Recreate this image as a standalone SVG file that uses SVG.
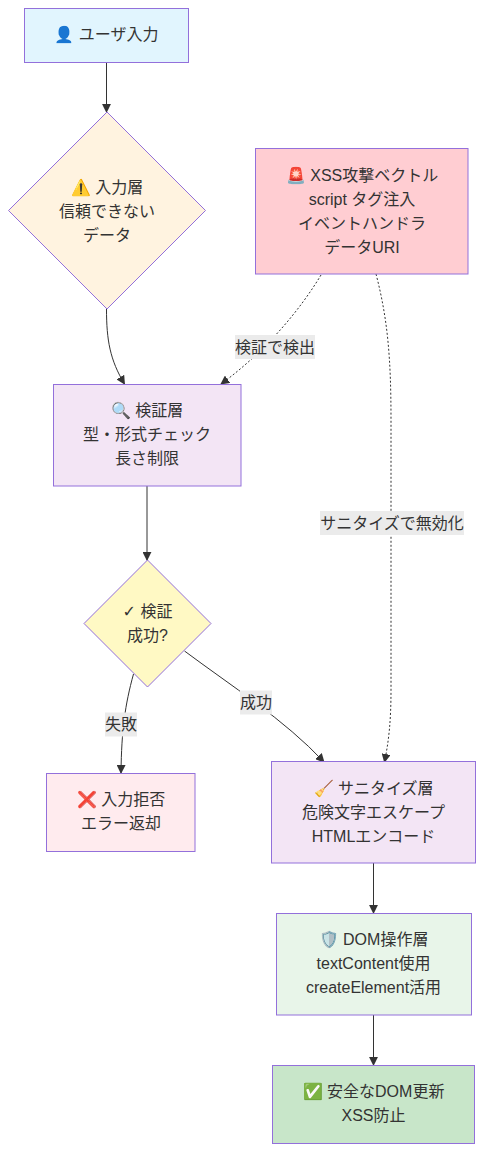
<svg xmlns="http://www.w3.org/2000/svg" width="484" height="1151" viewBox="0 0 484 1151">
<style>
text{font-family:"Liberation Sans","Noto Sans CJK JP",sans-serif;font-size:16px;fill:#333;text-anchor:middle}
.n{stroke:#9370DB;stroke-width:1}
.e{fill:none;stroke:#333;stroke-width:1}
.d{stroke-dasharray:2 2}
.lb{fill:#ebebeb;stroke:none}
.c{font-family:"DejaVu Sans",sans-serif}
</style>
<defs><marker id="a" viewBox="0 0 10 10" refX="9" refY="5" markerWidth="9" markerHeight="9" markerUnits="userSpaceOnUse" orient="auto"><path d="M0 0L10 5L0 10z" fill="#333"/></marker></defs>
<rect width="484" height="1151" fill="#fff"/>
<g id="connectors">
<path class="e" marker-end="url(#a)" d="M106.500 62V112"/>
<path class="e" marker-end="url(#a)" d="M106.500 309C106.500 340 110 360 124.500 384"/>
<path class="e d" marker-end="url(#a)" d="M321 275C300 310 265 352 221 384"/>
<path class="e d" marker-end="url(#a)" d="M376 274C388 320 391 360 391 420V690C391 720 389 740 384.500 762"/>
<path class="e" marker-end="url(#a)" d="M147 486V560"/>
<path class="e" marker-end="url(#a)" d="M133.500 674C125 705 121.500 730 121 773"/>
<path class="e" marker-end="url(#a)" d="M184.500 651C230 685 285 720 324 762"/>
<path class="e" marker-end="url(#a)" d="M373.500 863V913"/>
<path class="e" marker-end="url(#a)" d="M373.500 1015V1065"/>
<rect class="lb" x="235" y="335" width="80" height="24"/><text x="275" y="353">検証で検出</text>
<rect class="lb" x="320" y="511" width="144" height="24"/><text x="392" y="529">サニタイズで無効化</text>
<rect class="lb" x="105" y="712.500" width="32" height="24"/><text x="121" y="730">失敗</text>
<rect class="lb" x="240" y="690.500" width="32" height="24"/><text x="256" y="708">成功</text>
</g>
<g id="input"><rect class="n" x="24.500" y="8.500" width="164" height="54" fill="#e1f5fe"/><text x="106.500" y="40">👤 ユーザ入力</text></g>
<g id="inputLayer"><polygon class="n" points="107,112 205.500,210.500 107,309 8.500,210.500" fill="#fff3e0"/><text x="107" y="193">⚠️ 入力層</text><text x="107" y="217">信頼できない</text><text x="107" y="241">データ</text></g>
<g id="xss"><rect class="n" x="255.500" y="148.500" width="212.500" height="125.500" fill="#ffcdd2"/><text x="362" y="181">🚨 XSS攻撃ベクトル</text><text x="362" y="205">script タグ注入</text><text x="362" y="229">イベントハンドラ</text><text x="362" y="253">データURI</text></g>
<g id="validate"><rect class="n" x="53.500" y="384.500" width="187.500" height="101.500" fill="#f3e5f5"/><text x="147" y="416">🔍 検証層</text><text x="147" y="440">型・形式チェック</text><text x="147" y="464">長さ制限</text></g>
<g id="check"><polygon class="n" points="147.500,560 211,623.500 147.500,687 84,623.500" fill="#fff9c4"/><text x="147.500" y="617"><tspan class="c">✓</tspan> 検証</text><text x="147.500" y="641">成功?</text></g>
<g id="reject"><rect class="n" x="46.500" y="773.500" width="148.500" height="78" fill="#ffebee"/><text x="121" y="805">❌ 入力拒否</text><text x="121" y="829">エラー返却</text></g>
<g id="sanitize"><rect class="n" x="271.500" y="761.500" width="204" height="101.500" fill="#f3e5f5"/><text x="373.500" y="794">🧹 サニタイズ層</text><text x="373.500" y="818">危険文字エスケープ</text><text x="373.500" y="842">HTMLエンコード</text></g>
<g id="dom"><rect class="n" x="276.500" y="913.500" width="195" height="101.500" fill="#e8f5e9"/><text x="373.500" y="945">🛡️ DOM操作層</text><text x="373.500" y="969">textContent使用</text><text x="373.500" y="993">createElement活用</text></g>
<g id="safe"><rect class="n" x="272.500" y="1065.500" width="202" height="78" fill="#c8e6c9"/><text x="373.500" y="1097">✅ 安全なDOM更新</text><text x="373.500" y="1121">XSS防止</text></g>
</svg>
